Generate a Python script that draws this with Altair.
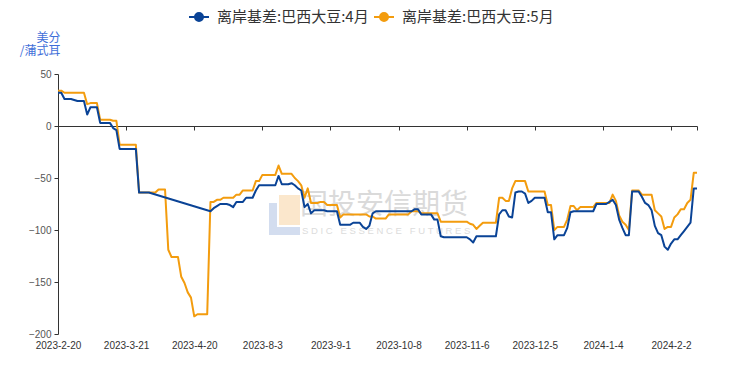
import altair as alt
import pandas as pd

series_names = ["离岸基差:巴西大豆:4月", "离岸基差:巴西大豆:5月"]
series_colors = ["#0a4396", "#f39c0e"]
tick_labels = ["2023-2-20", "2023-3-21", "2023-4-20", "2023-8-3", "2023-9-1",
               "2023-10-8", "2023-11-6", "2023-12-5", "2024-1-4", "2024-2-2"]
label_step = 21
y_ticks = [-200, -150, -100, -50, 0, 50]

apr = [32, 32, 26, 26, 26, 25, 24, 24, 24, 11,
       18, 18, 18, 3, 3, 3, 3, -2, -4, -22,
       -22, -22, -22, -22, -22, -64, -64, -64, -64, None,
       None, None, None, None, None, None, None, None, None, None,
       None, None, None, None, None, None, None, -82, -79, -77,
       -75, -75, -75, -76, -78, -73, -73, -73, -69, -69,
       -69, -62, -57, -57, -57, -57, -57, -57, -48, -56,
       -56, -56, -55, -57, -60, -62, -78, -75, -84, -81,
       -81, -81, -81, -82, -82, -82, -82, -95, -95, -95,
       -95, -93, -93, -93, -97, -99, -96, -84, -82, -82,
       -82, -82, -82, -82, -82, -82, -82, -82, -82, -82,
       -80, -80, -85, -85, -85, -85, -90, -90, -106, -107,
       -107, -107, -107, -107, -107, -107, -107, -109, -112, -106,
       -106, -106, -106, -106, -106, -106, -85, -81, -81, -87,
       -88, -64, -63, -63, -65, -74, -72, -69, -69, -69,
       -69, -83, -83, -109, -105, -105, -105, -98, -83, -82,
       -82, -82, -82, -82, -82, -82, -75, -75, -75, -75,
       -73, -71, -76, -90, -98, -105, -105, -63, -63, -63,
       -68, -74, -76, -81, -96, -103, -105, -116, -119, -113,
       -109, -109, -105, -101, -97, -93, -60, -60]

may = [34, 34, 32, 32, 32, 32, 32, 32, 32, 21,
       22, 22, 22, 6, 6, 6, 6, 5, 5, -18,
       -18, -18, -18, -18, -18, -64, -64, -64, -64, -64,
       -64, -61, -61, -61, -119, -126, -126, -126, -145, -151,
       -160, -165, -183, -181, -181, -181, -181, -73, -73, -71,
       -71, -69, -69, -69, -69, -66, -66, -62, -62, -62,
       -62, -53, -53, -47, -47, -47, -47, -47, -38, -46,
       -46, -46, -46, -50, -53, -57, -69, -60, -74, -74,
       -74, -73, -73, -76, -76, -76, -76, -88, -85, -85,
       -85, -85, -85, -85, -85, -85, -87, -87, -89, -89,
       -89, -89, -85, -85, -85, -85, -85, -85, -85, -82,
       -82, -82, -84, -84, -84, -84, -84, -84, -92, -92,
       -92, -92, -92, -92, -92, -92, -92, -94, -95, -99,
       -96, -93, -93, -93, -93, -93, -69, -69, -72, -72,
       -60, -53, -53, -53, -53, -63, -63, -63, -63, -63,
       -63, -76, -76, -100, -97, -97, -97, -90, -77, -77,
       -81, -78, -78, -78, -78, -78, -74, -74, -74, -74,
       -74, -66, -72, -86, -92, -95, -100, -62, -62, -62,
       -66, -66, -66, -66, -81, -84, -87, -99, -97, -97,
       -88, -85, -80, -80, -74, -71, -45, -45]

rows = []
for name, vals in zip(series_names, [apr, may]):
    for i, v in enumerate(vals):
        if v is not None:
            rows.append({"idx": i, "series": name, "value": v})
df = pd.DataFrame(rows)

n_points = len(apr)
PLOT_W, PLOT_H = 639, 260
y_min, y_max = -200, 50
zero_px = PLOT_H * (y_max - 0) / (y_max - y_min)

label_js = "[" + ",".join("'%s'" % t for t in tick_labels) + "]"
tick_values = [k * label_step for k in range(len(tick_labels))] + [n_points - 1]

x_enc = alt.X(
    "idx:Q",
    scale=alt.Scale(domain=[0, n_points - 1], nice=False, zero=False),
    axis=alt.Axis(
        values=tick_values,
        labelExpr="datum.value %% %d == 0 ? %s[round(datum.value / %d)] : ''"
                  % (label_step, label_js, label_step),
        offset=-(PLOT_H - zero_px),
        tickSize=4,
        labelPadding=(PLOT_H - zero_px) + 2,
        domainColor="#333333",
        tickColor="#333333",
        labelColor="#333333",
        labelFont="Liberation Sans",
        labelFontSize=10,
        labelFlush=False,
        labelOverlap=False,
        grid=False,
        title="",
    ),
)

y_enc = alt.Y(
    "value:Q",
    scale=alt.Scale(domain=[y_min, y_max], nice=False, zero=False),
    axis=alt.Axis(
        values=y_ticks,
        tickSize=4,
        labelPadding=3,
        domainColor="#333333",
        tickColor="#333333",
        labelColor="#555555",
        labelFont="Liberation Sans",
        labelFontSize=10,
        grid=False,
        title=["美分", "/蒲式耳"],
        titleAngle=0,
        titleAlign="right",
        titleBaseline="top",
        titleX=2,
        titleY=-42,
        titleColor="#3f6fd9",
        titleFont="Noto Sans CJK SC",
        titleFontSize=12,
        titleFontWeight="normal",
        titleLineHeight=13,
    ),
)

# line with a solid dot (concentric rings stroked to look filled)
legend_symbol = (
    "M -1 0 L 1 0 "
    "M 0.4 0 A 0.4 0.4 0 1 1 -0.4 0 A 0.4 0.4 0 1 1 0.4 0 "
    "M 0.25 0 A 0.25 0.25 0 1 1 -0.25 0 A 0.25 0.25 0 1 1 0.25 0 "
    "M 0.1 0 A 0.1 0.1 0 1 1 -0.1 0 A 0.1 0.1 0 1 1 0.1 0"
)

color_enc = alt.Color(
    "series:N",
    scale=alt.Scale(domain=series_names, range=series_colors),
    legend=alt.Legend(
        orient="none",
        legendX=130,
        legendY=-68,
        direction="horizontal",
        title=None,
        symbolType=legend_symbol,
        symbolSize=400,
        symbolStrokeWidth=2,
        labelFont="Noto Sans CJK SC",
        labelFontSize=15,
        labelColor="#333333",
        labelOffset=7,
        labelLimit=300,
        columnPadding=1,
        padding=0,
    ),
)

base = alt.Chart(df)

line_may = base.transform_filter(
    alt.datum.series == series_names[1]
).mark_line(strokeWidth=2, strokeJoin="round").encode(x=x_enc, y=y_enc, color=color_enc)

line_apr = base.transform_filter(
    alt.datum.series == series_names[0]
).mark_line(strokeWidth=2, strokeJoin="round").encode(x=x_enc, y=y_enc, color=color_enc)

wm_df = pd.DataFrame({"k": [0]})
wm_base = alt.Chart(wm_df)
wm_blue_v = wm_base.mark_rect(color="#d3ddef").encode(
    x=alt.value(211), x2=alt.value(219), y=alt.value(129), y2=alt.value(161))
wm_blue_h = wm_base.mark_rect(color="#d3ddef").encode(
    x=alt.value(211), x2=alt.value(242), y=alt.value(153), y2=alt.value(161))
wm_orange = wm_base.mark_rect(color="#fbe7cc").encode(
    x=alt.value(221), x2=alt.value(242), y=alt.value(121), y2=alt.value(151))
wm_text = wm_base.mark_text(
    text="国投安信期货", font="Noto Sans CJK SC", fontSize=28,
    color="#dadada", align="left", baseline="middle"
).encode(x=alt.value(242), y=alt.value(132))
nb = "\u00a0"
wm_sub_text = (nb * 3).join(nb.join(w) for w in ["SDIC", "ESSENCE", "FUTURES"])
wm_sub = wm_base.mark_text(
    text=wm_sub_text, font="Liberation Sans",
    fontSize=9.5, color="#dcdcdc", align="left", baseline="middle"
).encode(x=alt.value(244), y=alt.value(157))

chart = alt.layer(
    wm_blue_v, wm_blue_h, wm_orange, wm_text, wm_sub, line_may, line_apr
).properties(
    width=PLOT_W,
    height=PLOT_H,
    autosize=alt.AutoSizeParams(type="none"),
    padding={"left": 50, "top": 66, "right": 36, "bottom": 24},
).configure_view(stroke="transparent")

chart.save("out.html", embed_options={"renderer": "svg", "actions": False})
